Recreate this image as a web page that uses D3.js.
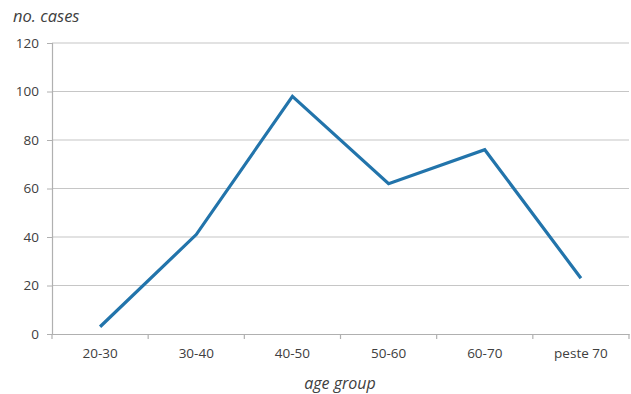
<!DOCTYPE html>
<html><head><meta charset="utf-8">
<script src="https://cdn.jsdelivr.net/npm/d3@7"></script>
<style>body{margin:0;background:#fff;}text{font-family:"Open Sans",sans-serif;fill:#404040;}</style>
</head><body><svg id="c" width="631" height="394"></svg>
<script>
const categories = ["20-30","30-40","40-50","50-60","60-70","peste 70"];
const cases = [3, 41, 98, 62, 76, 23];
const yTicks = [0,20,40,60,80,100,120];

const svg = d3.select("#c");
const m = {l:52, r:629, t:43, b:334};
const x = d3.scaleBand().domain(categories).range([m.l, m.r]);
const y = d3.scaleLinear().domain([0,120]).range([m.b, m.t]);

svg.append("g").selectAll("line").data(yTicks.slice(1)).join("line")
  .attr("x1", m.l).attr("x2", m.r).attr("y1", d=>y(d)).attr("y2", d=>y(d))
  .attr("stroke","#c6c6c6").attr("stroke-width",1.2);

const ya = svg.append("g").attr("transform",`translate(${m.l},0)`)
  .call(d3.axisLeft(y).tickValues(yTicks).tickSize(5).tickPadding(8));
ya.select(".domain").attr("stroke","#b0b0b0").attr("stroke-width",1.2);
ya.selectAll(".tick line").attr("stroke","#b0b0b0");
ya.selectAll("text").style("font-size","13.5px").attr("fill","#333");

const xa = svg.append("g").attr("transform",`translate(0,${m.b})`)
  .call(d3.axisBottom(x).tickSize(0).tickPadding(14));
xa.select(".domain").attr("stroke","#b0b0b0").attr("stroke-width",1.2);
xa.selectAll("text").style("font-size","13.5px").attr("fill","#333");
const bounds = categories.map(c=>x(c)).concat([m.r]);
xa.selectAll(".bt").data(bounds).join("line").attr("class","bt")
  .attr("x1",d=>d).attr("x2",d=>d).attr("y1",0).attr("y2",5)
  .attr("stroke","#b0b0b0").attr("stroke-width",1.2);

const line = d3.line().x((d,i)=>x(categories[i])+x.bandwidth()/2).y(d=>y(d));
svg.append("path").datum(cases).attr("d",line).attr("fill","none")
  .attr("stroke","#2274ab").attr("stroke-width",3.2).attr("stroke-linejoin","miter");

svg.append("text").attr("x",13).attr("y",22).style("font-size","16.5px").style("font-style","italic").attr("fill","#111").text("no. cases");
svg.append("text").attr("x",340).attr("y",389).attr("text-anchor","middle").style("font-size","16px").style("font-style","italic").attr("fill","#111").text("age group");
</script></body></html>
